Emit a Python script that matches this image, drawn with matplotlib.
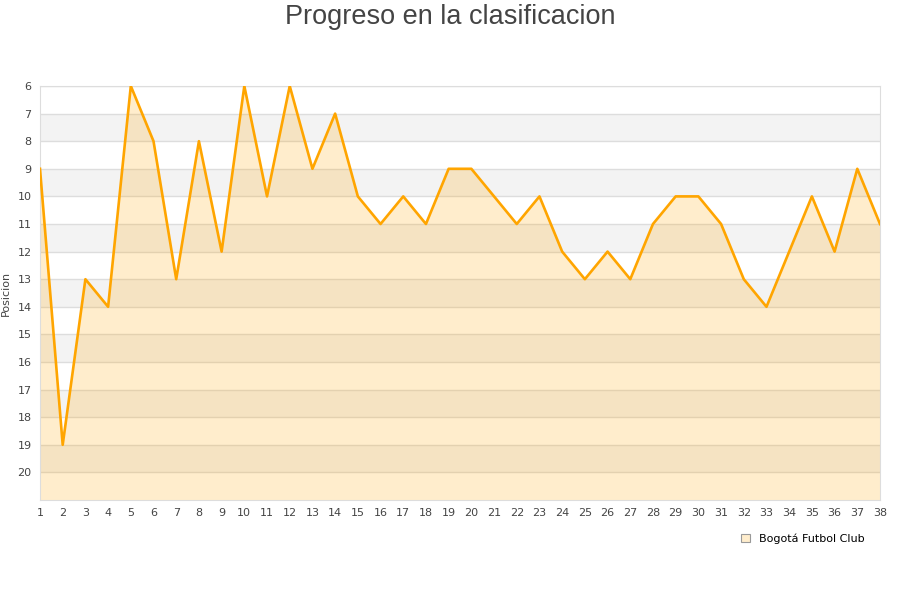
import matplotlib.pyplot as plt
from matplotlib.patches import Patch

# jornadas y posicion del equipo
jornadas = list(range(1, 39))
posicion = [9, 19, 13, 14, 6, 8, 13, 8, 12, 6,
            10, 6, 9, 7, 10, 11, 10, 11, 9, 9,
            10, 11, 10, 12, 13, 12, 13, 11, 10, 10,
            11, 13, 14, 12, 10, 12, 9, 11]
equipo = 'Bogotá Futbol Club'
yticks = list(range(6, 21))

fig = plt.figure(figsize=(9, 6), dpi=100)
ax = fig.add_axes([40/900, 100/600, 840/900, 414/600])

# bandas alternas y rejilla
for y in range(7, 21, 2):
    ax.axhspan(y, y + 1, color='#f3f3f3', zorder=0, lw=0)
for y in yticks:
    ax.axhline(y, color='#dddddd', lw=1, zorder=1)

ax.fill_between(jornadas, posicion, 21, color='#ffa500', alpha=0.2, lw=0, zorder=2)
ax.plot(jornadas, posicion, color='#ffa500', lw=1.9, zorder=3)

ax.set_xlim(1, 38)
ax.set_ylim(21, 6)
ax.set_xticks(jornadas)
ax.set_yticks(yticks)
ax.tick_params(length=0, labelsize=8, colors='#444444', pad=6)
for s in ax.spines.values():
    s.set_color('#dddddd')

ax.set_ylabel('Posicion', fontsize=8, color='#444444')
ax.yaxis.set_label_coords(-0.035, 0.5)
fig.text(0.5, 0.993, 'Progreso en la clasificacion', ha='center', va='top',
         fontsize=19.5, color='#444444', family='Liberation Sans')

handle = Patch(facecolor='#ffedcc', edgecolor='#999999', lw=0.8)
fig.legend([handle], [equipo], loc='center right', bbox_to_anchor=(0.972, 0.102),
           frameon=False, fontsize=8, handlelength=0.8, handleheight=0.8,
           handletextpad=0.8)

plt.savefig('out.png')
